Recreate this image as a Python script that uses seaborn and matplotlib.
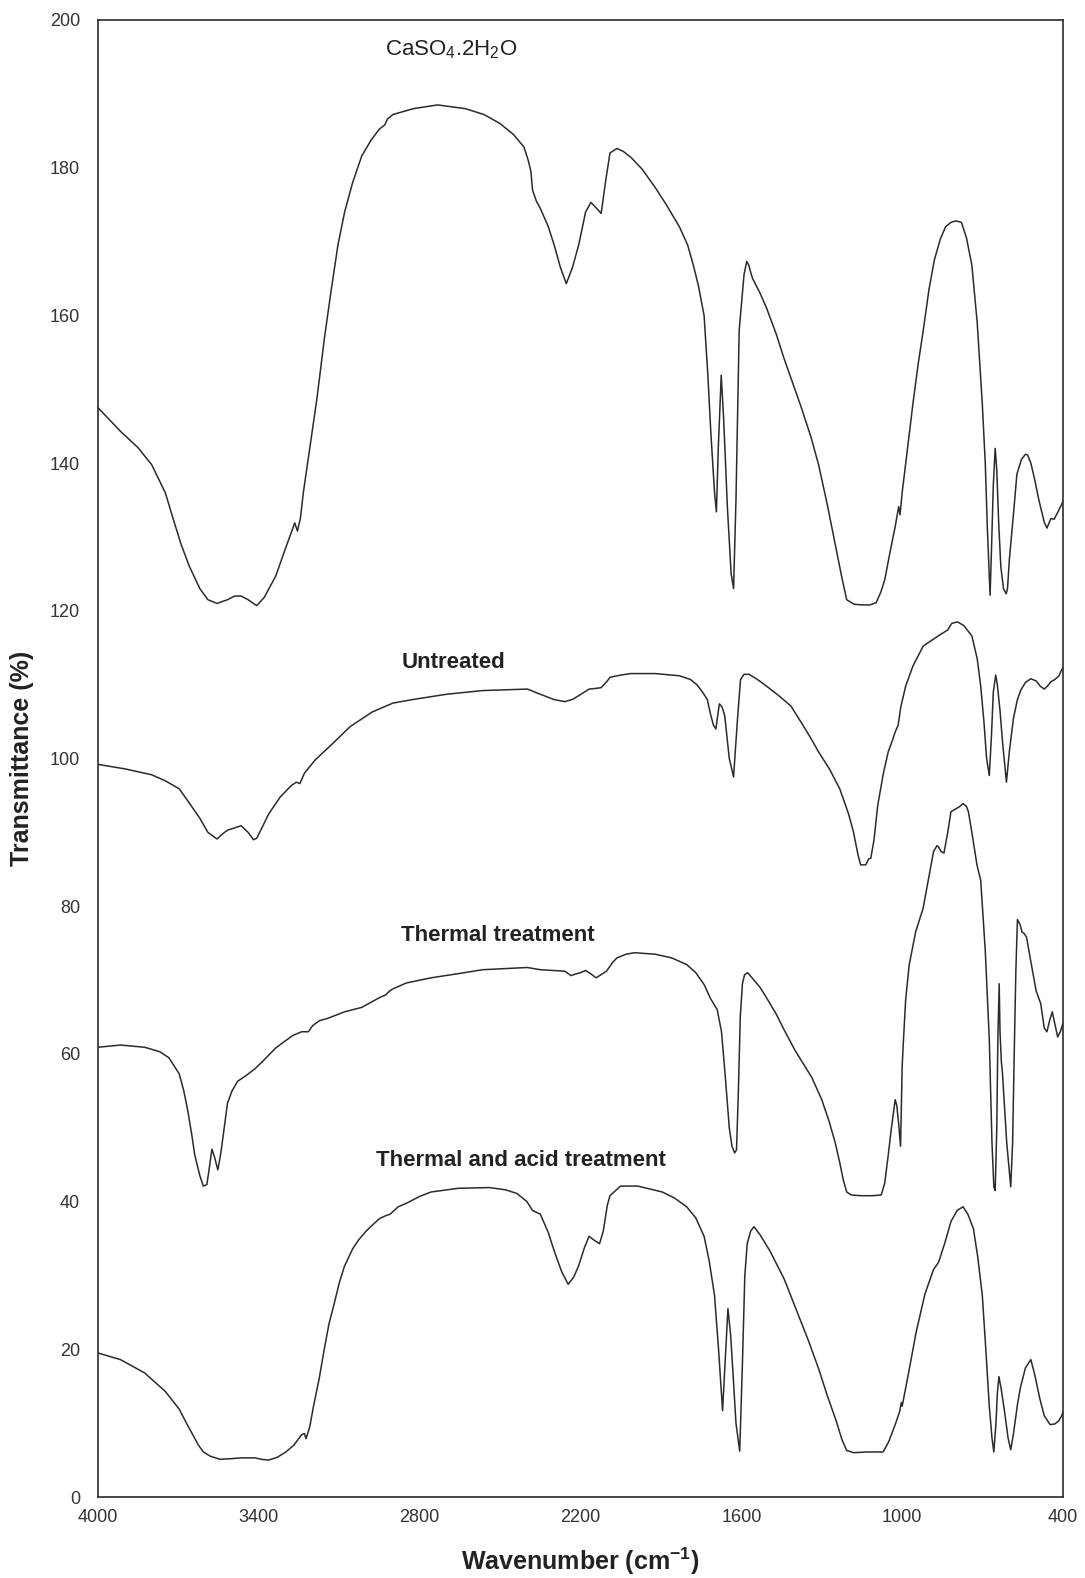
import matplotlib
matplotlib.use("Agg")
import matplotlib.pyplot as plt
import seaborn as sns
import pandas as pd

# ---- FTIR spectra (wavenumber in cm^-1, transmittance in %, offset curves) ----
wn_gypsum = [4000, 3916, 3851, 3800, 3749, 3720, 3690, 3659, 3620, 3590, 3556, 3517, 3490, 3466,
             3440, 3408, 3380, 3337, 3300, 3266, 3256, 3245, 3234, 3210, 3183, 3155, 3131, 3105,
             3080, 3050, 3016, 2980, 2951, 2930, 2920, 2900, 2823, 2733, 2630, 2560, 2501, 2450,
             2411, 2395, 2385, 2379, 2365, 2350, 2320, 2298, 2275, 2253, 2230, 2207, 2181, 2161,
             2140, 2123, 2105, 2090, 2064, 2040, 2012, 1970, 1921, 1880, 1831, 1800, 1779, 1760,
             1739, 1725, 1714, 1700, 1693, 1686, 1675, 1666, 1652, 1638, 1629, 1620, 1608, 1590,
             1580, 1572, 1565, 1558, 1530, 1506, 1470, 1441, 1410, 1376, 1340, 1312, 1280, 1246,
             1225, 1207, 1180, 1155, 1120, 1097, 1080, 1065, 1045, 1026, 1013, 1008, 1000, 980,
             960, 940, 922, 900, 880, 857, 838, 818, 800, 779, 760, 740, 720, 701, 690, 682, 672,
             667, 660, 653, 647, 640, 632, 622, 612, 607, 600, 585, 572, 555, 540, 532, 520, 507, 490,
             470, 460, 445, 433, 420, 400]
t_gypsum = [147.5, 144.3, 142.1, 139.8, 136.0, 132.5, 129.0, 126.0, 123.0, 121.5, 121.0, 121.5, 122.0, 122.0,
            121.5, 120.7, 121.8, 124.7, 128.5, 131.9, 130.8, 132.5, 136.0, 142.0, 148.8, 157.0, 163.2, 169.5,
            174.0, 178.0, 181.6, 183.8, 185.2, 185.8, 186.6, 187.2, 188.0, 188.5, 188.0, 187.2, 186.0, 184.5,
            182.8, 181.0, 179.5, 177.0, 175.5, 174.5, 172.0, 169.5, 166.5, 164.3, 166.5, 169.5, 174.0, 175.3,
            174.5, 173.8, 178.5, 182.0, 182.6, 182.2, 181.4, 179.8, 177.3, 175.0, 172.0, 169.5, 166.8, 164.0,
            160.0, 152.0, 144.3, 136.0, 133.4, 142.0, 151.9, 146.0, 134.0, 125.0, 123.0, 135.0, 158.0, 165.5,
            167.3, 166.8, 165.8, 165.0, 163.0, 161.0, 157.5, 154.2, 151.0, 147.5, 143.5, 139.8, 134.5, 128.3,
            124.5, 121.5, 120.9, 120.8, 120.8, 121.1, 122.5, 124.2, 128.0, 131.4, 134.1, 133.0, 136.0, 142.0,
            148.0, 153.5, 157.8, 163.5, 167.5, 170.4, 172.0, 172.6, 172.8, 172.6, 170.5, 166.8, 159.0, 148.0, 140.0, 131.0, 122.1,
            128.0, 137.0, 142.0, 139.0, 132.0, 126.0, 123.0, 122.3, 123.0, 127.0, 133.0, 138.5, 140.5, 141.2, 141.1, 140.0, 138.0, 135.0,
            132.0, 131.2, 132.5, 132.4, 133.3, 134.8]

wn_untreated = [4000, 3900, 3800, 3750, 3697, 3660, 3620, 3590, 3556, 3535, 3517, 3490, 3466, 3440,
                3420, 3408, 3390, 3363, 3320, 3280, 3260, 3247, 3230, 3190, 3131, 3060, 2977, 2900,
                2823, 2700, 2565, 2398, 2350, 2300, 2259, 2230, 2207, 2168, 2140, 2123, 2100, 2090,
                2050, 2012, 1921, 1831, 1790, 1766, 1745, 1727, 1715, 1704, 1695, 1682, 1672, 1662,
                1645, 1629, 1615, 1603, 1590, 1571, 1540, 1506, 1460, 1415, 1370, 1340, 1312, 1270,
                1233, 1200, 1182, 1165, 1155, 1136, 1125, 1117, 1105, 1091, 1070, 1052, 1035, 1026,
                1015, 1005, 987, 960, 922, 890, 857, 830, 815, 794, 770, 740, 720, 707, 695, 685,
                675, 667, 660, 651, 645, 635, 625, 611, 600, 585, 570, 557, 540, 520, 500, 485, 470,
                458, 445, 430, 415, 405, 400]
t_untreated = [99.2, 98.6, 97.8, 97.0, 95.9, 94.0, 91.9, 90.0, 89.1, 89.8, 90.3, 90.6, 90.9, 90.0,
               89.0, 89.2, 90.5, 92.5, 94.8, 96.3, 96.8, 96.6, 98.0, 99.8, 101.8, 104.3, 106.3, 107.5,
               108.0, 108.7, 109.2, 109.4, 108.7, 108.0, 107.7, 108.0, 108.5, 109.4, 109.5, 109.6, 110.5, 111.0,
               111.3, 111.5, 111.5, 111.2, 110.7, 110.0, 109.0, 108.0, 106.0, 104.5, 104.0, 107.4, 107.0, 105.8,
               100.0, 97.5, 105.0, 110.7, 111.4, 111.4, 110.7, 109.8, 108.5, 107.1, 104.5, 102.7, 100.9, 98.5,
               95.9, 92.5, 90.1, 87.0, 85.6, 85.6, 86.4, 86.5, 89.0, 93.7, 98.0, 100.9, 102.6, 103.6,
               104.5, 107.0, 109.8, 112.5, 115.2, 116.0, 116.8, 117.4, 118.3, 118.5, 118.0, 116.6, 113.5, 109.8, 105.0, 100.0,
               97.7, 103.0, 109.0, 111.3, 110.0, 106.5, 102.0, 96.8, 101.0, 105.4, 108.0, 109.3, 110.3, 110.8, 110.5, 109.8, 109.4,
               109.8, 110.4, 110.7, 111.2, 112.0, 112.3]

wn_thermal = [4000, 3916, 3826, 3770, 3736, 3697, 3680, 3665, 3650, 3639, 3620, 3607, 3594, 3585,
              3575, 3565, 3553, 3542, 3530, 3517, 3500, 3479, 3450, 3414, 3380, 3337, 3300, 3273,
              3240, 3215, 3200, 3174, 3144, 3080, 3016, 2951, 2926, 2913, 2900, 2850, 2758, 2650,
              2565, 2398, 2350, 2259, 2235, 2220, 2200, 2181, 2160, 2142, 2120, 2103, 2080, 2064,
              2030, 1999, 1921, 1860, 1804, 1770, 1739, 1715, 1690, 1674, 1660, 1645, 1635, 1625,
              1618, 1611, 1604, 1596, 1588, 1577, 1560, 1530, 1506, 1470, 1441, 1400, 1337, 1300,
              1272, 1250, 1233, 1220, 1207, 1190, 1155, 1110, 1078, 1065, 1052, 1040, 1026, 1020,
              1013, 1006, 1000, 995, 987, 974, 950, 922, 900, 883, 870, 864, 855, 844, 830, 818,
              799, 785, 773, 760, 753, 740, 721, 707, 690, 675, 665, 658, 653, 647, 643, 639, 638,
              635, 630, 626, 620, 610, 595, 588, 582, 576, 570, 560, 553, 545, 536, 520, 500,
              483, 470, 460, 450, 440, 430, 420, 410, 403, 400]
t_thermal = [60.9, 61.2, 60.9, 60.3, 59.5, 57.3, 55.0, 52.3, 49.0, 46.3, 43.5, 42.1, 42.3, 44.5,
             47.1, 46.0, 44.3, 46.5, 49.8, 53.3, 55.0, 56.3, 57.0, 58.0, 59.2, 60.8, 61.8, 62.5,
             63.0, 63.0, 63.8, 64.5, 64.8, 65.7, 66.3, 67.6, 68.0, 68.5, 68.8, 69.6, 70.3, 70.9,
             71.4, 71.7, 71.4, 71.2, 70.6, 70.8, 71.0, 71.3, 70.8, 70.3, 70.8, 71.2, 72.4, 73.0,
             73.5, 73.7, 73.5, 73.0, 72.1, 71.0, 69.4, 67.5, 66.0, 63.0, 57.0, 50.0, 47.5, 46.6,
             47.0, 55.0, 65.0, 69.5, 70.7, 71.0, 70.3, 69.0, 67.6, 65.4, 63.3, 60.5, 56.8, 53.8,
             50.8, 48.0, 45.3, 43.0, 41.3, 40.9, 40.8, 40.8, 40.9, 42.5, 46.3, 50.0, 53.8, 53.0,
             50.5, 47.5, 58.3, 62.0, 67.3, 72.0, 76.5, 79.7, 84.0, 87.4, 88.2, 88.0, 87.4, 87.2, 90.0, 92.8,
             93.2, 93.5, 93.9, 93.5, 92.8, 90.0, 85.6, 83.5, 74.0, 62.0, 48.0, 42.0, 41.5, 50.0, 62.0, 68.0, 69.5,
             63.0, 59.0, 57.5, 54.0, 48.0, 42.0, 48.0, 60.0, 71.0, 78.2, 77.5, 76.5, 76.3, 75.8, 72.5, 68.5,
             66.8, 63.5, 63.0, 64.5, 65.7, 64.0, 62.3, 63.0, 63.8, 64.2]

wn_acid = [4000, 3916, 3826, 3749, 3697, 3670, 3646, 3625, 3607, 3580, 3543, 3500, 3466, 3414,
           3390, 3363, 3330, 3299, 3270, 3241, 3230, 3224, 3210, 3196, 3175, 3157, 3138, 3118,
           3100, 3080, 3050, 3028, 3000, 2977, 2950, 2926, 2910, 2880, 2848, 2800, 2758, 2656,
           2540, 2480, 2437, 2400, 2379, 2350, 2320, 2298, 2270, 2246, 2225, 2207, 2185, 2168,
           2150, 2129, 2115, 2100, 2090, 2051, 1986, 1895, 1850, 1804, 1770, 1739, 1720, 1700,
           1685, 1670, 1661, 1650, 1640, 1632, 1620, 1606, 1596, 1587, 1578, 1565, 1553, 1530,
           1493, 1440, 1389, 1350, 1311, 1280, 1246, 1225, 1207, 1180, 1130, 1071, 1050, 1026,
           1010, 1003, 1000, 975, 948, 915, 883, 864, 840, 818, 795, 773, 755, 734, 718, 701,
           688, 675, 665, 658, 650, 645, 639, 630, 617, 605, 595, 585, 570, 559, 540, 520, 505,
           487, 470, 448, 430, 416, 405, 400]
t_acid = [19.5, 18.6, 16.8, 14.3, 11.9, 10.0, 8.4, 7.0, 6.1, 5.5, 5.1, 5.2, 5.3, 5.3,
          5.1, 5.0, 5.4, 6.1, 7.0, 8.4, 8.6, 7.9, 9.5, 12.3, 16.0, 19.8, 23.5, 26.3,
          29.0, 31.3, 33.6, 34.8, 36.0, 36.8, 37.7, 38.1, 38.3, 39.3, 39.8, 40.7, 41.3, 41.8,
          41.9, 41.6, 41.1, 40.0, 38.8, 38.3, 35.8, 33.3, 30.5, 28.8, 29.8, 31.3, 33.8, 35.3,
          34.8, 34.3, 36.0, 39.5, 40.8, 42.1, 42.1, 41.3, 40.5, 39.3, 37.8, 35.3, 32.0, 27.3,
          20.0, 11.7, 18.0, 25.5, 22.0, 17.3, 10.0, 6.2, 18.0, 30.0, 34.3, 36.0, 36.6, 35.5,
          33.3, 29.5, 24.8, 21.2, 17.3, 13.8, 10.3, 7.8, 6.3, 6.0, 6.1, 6.1, 7.5, 9.8,
          11.5, 12.8, 12.3, 17.0, 22.3, 27.5, 30.8, 31.8, 34.5, 37.3, 38.8, 39.3, 38.3, 36.3, 32.5, 27.3,
          20.0, 12.3, 8.0, 6.1, 10.0, 14.0, 16.3, 14.5, 11.3, 8.0, 6.4, 8.5, 12.5, 14.8, 17.5, 18.6, 16.5,
          13.4, 11.0, 9.8, 9.9, 10.3, 11.0, 11.5]

sample_names = ["CaSO$_4$.2H$_2$O", "Untreated", "Thermal treatment", "Thermal and acid treatment"]
label_x = [2682, 2674, 2508, 2424]
label_y = [196.0, 113.0, 76.0, 45.6]
label_bold = [False, True, True, True]

x_ticks = [4000, 3400, 2800, 2200, 1600, 1000, 400]
y_ticks = list(range(0, 201, 20))

# ---- styling ----
sns.set_style("white")
plt.rcParams["font.family"] = ["Liberation Sans", "DejaVu Sans"]
plt.rcParams["mathtext.fontset"] = "custom"
plt.rcParams["mathtext.rm"] = "Liberation Sans"
plt.rcParams["mathtext.it"] = "Liberation Sans"
plt.rcParams["mathtext.bf"] = "Liberation Sans:bold"
plt.rcParams["mathtext.default"] = "rm"

ink = "#2b2b2b"

fig = plt.figure(figsize=(10.85, 15.78), dpi=100)
ax = fig.add_axes([98 / 1085, 1 - 1497 / 1578, (1063 - 98) / 1085, (1497 - 20) / 1578])

series = [(wn_gypsum, t_gypsum), (wn_untreated, t_untreated),
          (wn_thermal, t_thermal), (wn_acid, t_acid)]
for name, (wn, tr) in zip(sample_names, series):
    df = pd.DataFrame({"wavenumber": wn, "transmittance": tr})
    sns.lineplot(data=df, x="wavenumber", y="transmittance", ax=ax, sort=False,
                 estimator=None, color=ink, linewidth=1.1)

for name, lx, ly, bold in zip(sample_names, label_x, label_y, label_bold):
    ax.text(lx, ly, name, ha="center", va="center", fontsize=16, color="#222222",
            fontweight="bold" if bold else "normal")

ax.set_xlim(4000, 400)
ax.set_ylim(0, 200)
ax.set_xticks(x_ticks)
ax.set_yticks(y_ticks)
ax.tick_params(axis="both", direction="out", length=6, width=1.0, color=ink,
               labelsize=13, labelcolor="#333333")
ax.tick_params(axis="y", pad=7)
ax.tick_params(axis="x", pad=3)

ax.set_xlabel("Wavenumber (cm$^{\\mathbf{-1}}$)", fontsize=18, fontweight="bold",
              color="#222222", va="center")
ax.xaxis.set_label_coords(0.5, -64 / 1477)
ax.set_ylabel("Transmittance (%)", fontsize=18, fontweight="bold",
              color="#222222", va="center")
ax.yaxis.set_label_coords(-76 / 965, 0.5)

for side in ["left", "right", "top", "bottom"]:
    ax.spines[side].set_visible(True)
    ax.spines[side].set_color(ink)
    ax.spines[side].set_linewidth(1.2)

fig.savefig("out.png", dpi=100, facecolor="white")
